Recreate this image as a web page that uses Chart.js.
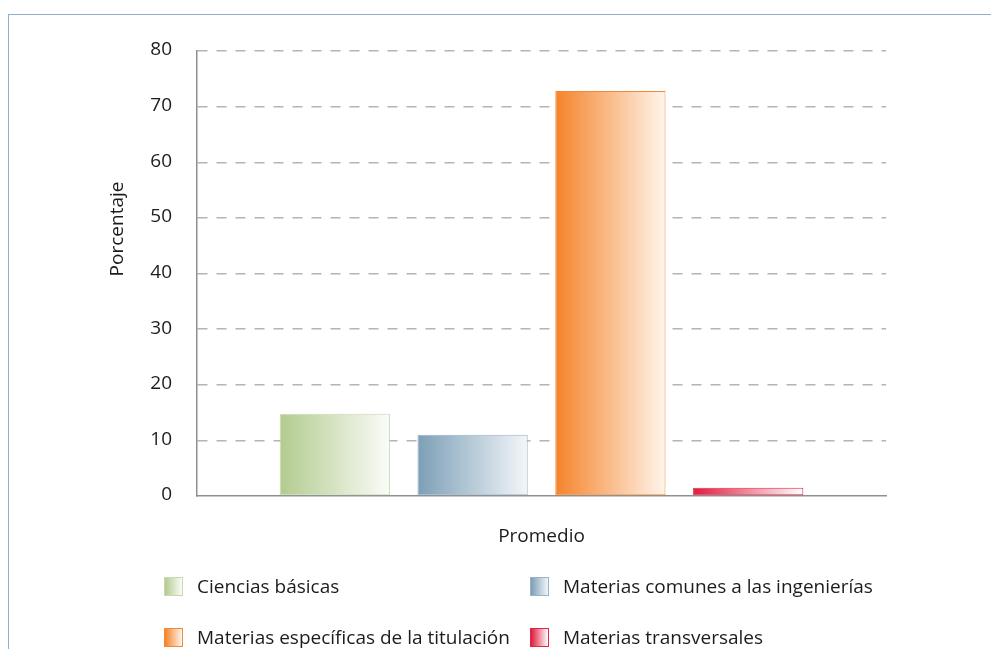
<!DOCTYPE html>
<html lang="es">
<head>
<meta charset="utf-8">
<title>Porcentaje promedio por tipo de materia</title>
<script src="https://cdn.jsdelivr.net/npm/chart.js@4.4.1/dist/chart.umd.min.js"></script>
<style>
  html, body { margin: 0; padding: 0; background: #fff; }
  #wrap { position: relative; width: 991px; height: 649px; overflow: hidden; font-family: "Open Sans", sans-serif; }
  #frame { position: absolute; left: 8px; top: 14px; right: -4px; bottom: -4px; border-top: 1.5px solid #8eb0cd; border-left: 1.5px solid #8eb0cd; }
  #chart { position: absolute; left: 0; top: 0; }
  .item { position: absolute; display: flex; align-items: center; font-size: 19px; color: #1e1b1c; white-space: nowrap; }
  .box { width: 19px; height: 19px; margin-right: 14px; box-sizing: border-box; border: 1px solid; flex: none; }
</style>
</head>
<body>
<div id="wrap">
  <div id="frame"></div>
  <canvas id="chart" width="991" height="649"></canvas>
  <div id="legend"></div>
</div>
<script>
const categories = ['Promedio'];
const seriesLabels = [
  'Ciencias básicas',
  'Materias comunes a las ingenierías',
  'Materias específicas de la titulación',
  'Materias transversales'
];
const seriesValues = [14.8, 11.0, 72.8, 1.5];
const yTicks = [0, 10, 20, 30, 40, 50, 60, 70, 80];
const yTitle = 'Porcentaje';

// left (strong) and right (pale) end of each bar's gradient, plus outline
const colorFrom = ['#b2cb8f', '#7c9fb6', '#f5832a', '#e01a3c'];
const colorTo = ['#fbfcf8', '#f3f6fa', '#fff5ec', '#ffffff'];
const colorLine = ['#c8dab2', '#98b3c7', '#f08a3a', '#e3274a'];

// legend grid: [left, top] for each series
const legendPos = [[164, 573], [530, 573], [164, 624], [530, 624]];

const FONT = '"Open Sans", sans-serif';
const TEXT = '#1e1b1c';

// horizontal gradient across each bar, computed once bars have their geometry
const barGradients = {
  id: 'barGradients',
  beforeDatasetsDraw(chart) {
    const ctx = chart.ctx;
    chart.data.datasets.forEach((ds, i) => {
      chart.getDatasetMeta(i).data.forEach(bar => {
        const g = ctx.createLinearGradient(bar.x - bar.width / 2, 0, bar.x + bar.width / 2, 0);
        g.addColorStop(0, colorFrom[i]);
        g.addColorStop(1, colorTo[i]);
        bar.options.backgroundColor = g;
      });
    });
  }
};

// y axis title sits higher than the middle of the axis
const yAxisTitle = {
  id: 'yAxisTitle',
  afterDraw(chart) {
    const { ctx, scales: { y } } = chart;
    ctx.save();
    ctx.translate(y.left + 18, y.getPixelForValue(48));
    ctx.rotate(-Math.PI / 2);
    ctx.font = `19px ${FONT}`;
    ctx.fillStyle = TEXT;
    ctx.textAlign = 'center';
    ctx.textBaseline = 'middle';
    ctx.fillText(yTitle, 0, 0);
    ctx.restore();
  }
};

new Chart(document.getElementById('chart'), {
  type: 'bar',
  data: {
    labels: categories,
    datasets: seriesLabels.map((label, i) => ({
      label,
      data: [seriesValues[i]],
      backgroundColor: () => colorFrom[i],
      borderColor: colorLine[i],
      borderWidth: 1,
      borderSkipped: false
    }))
  },
  options: {
    responsive: false,
    animation: false,
    devicePixelRatio: 1,
    categoryPercentage: 0.8,
    barPercentage: 0.8,
    layout: { padding: { left: 100, top: 51, right: 105, bottom: 80 } },
    plugins: {
      legend: { display: false },
      tooltip: { enabled: false }
    },
    scales: {
      x: {
        grid: { display: false },
        border: { display: true, color: '#8f8f8f', width: 1.5 },
        ticks: { display: false },
        title: {
          display: true,
          text: 'Promedio',
          color: TEXT,
          font: { family: FONT, size: 19 },
          padding: { top: 0, bottom: 21 }
        },
        afterFit(scale) { scale.height = 73; }
      },
      y: {
        min: 0,
        max: 80,
        afterBuildTicks(scale) { scale.ticks = yTicks.map(v => ({ value: v })); },
        grid: {
          drawTicks: false,
          color: c => (c.tick && c.tick.value === 0 ? 'rgba(0,0,0,0)' : '#b4b4b4'),
          lineWidth: 1.5
        },
        border: { display: true, color: '#8f8f8f', width: 1.5, dash: [10, 9] },
        ticks: {
          padding: 25,
          labelOffset: -1,
          color: TEXT,
          font: { family: FONT, size: 19 }
        },
        afterFit(scale) { scale.width = 97; }
      }
    }
  },
  plugins: [barGradients, yAxisTitle]
});

// legend laid out as a two-column grid under the plot
const legend = document.getElementById('legend');
seriesLabels.forEach((label, i) => {
  const item = document.createElement('div');
  item.className = 'item';
  item.style.left = legendPos[i][0] + 'px';
  item.style.top = legendPos[i][1] + 'px';
  const box = document.createElement('span');
  box.className = 'box';
  box.style.background = `linear-gradient(to right, ${colorFrom[i]}, ${colorTo[i]})`;
  box.style.borderColor = colorLine[i];
  item.appendChild(box);
  item.appendChild(document.createTextNode(label));
  legend.appendChild(item);
});
</script>
</body>
</html>
